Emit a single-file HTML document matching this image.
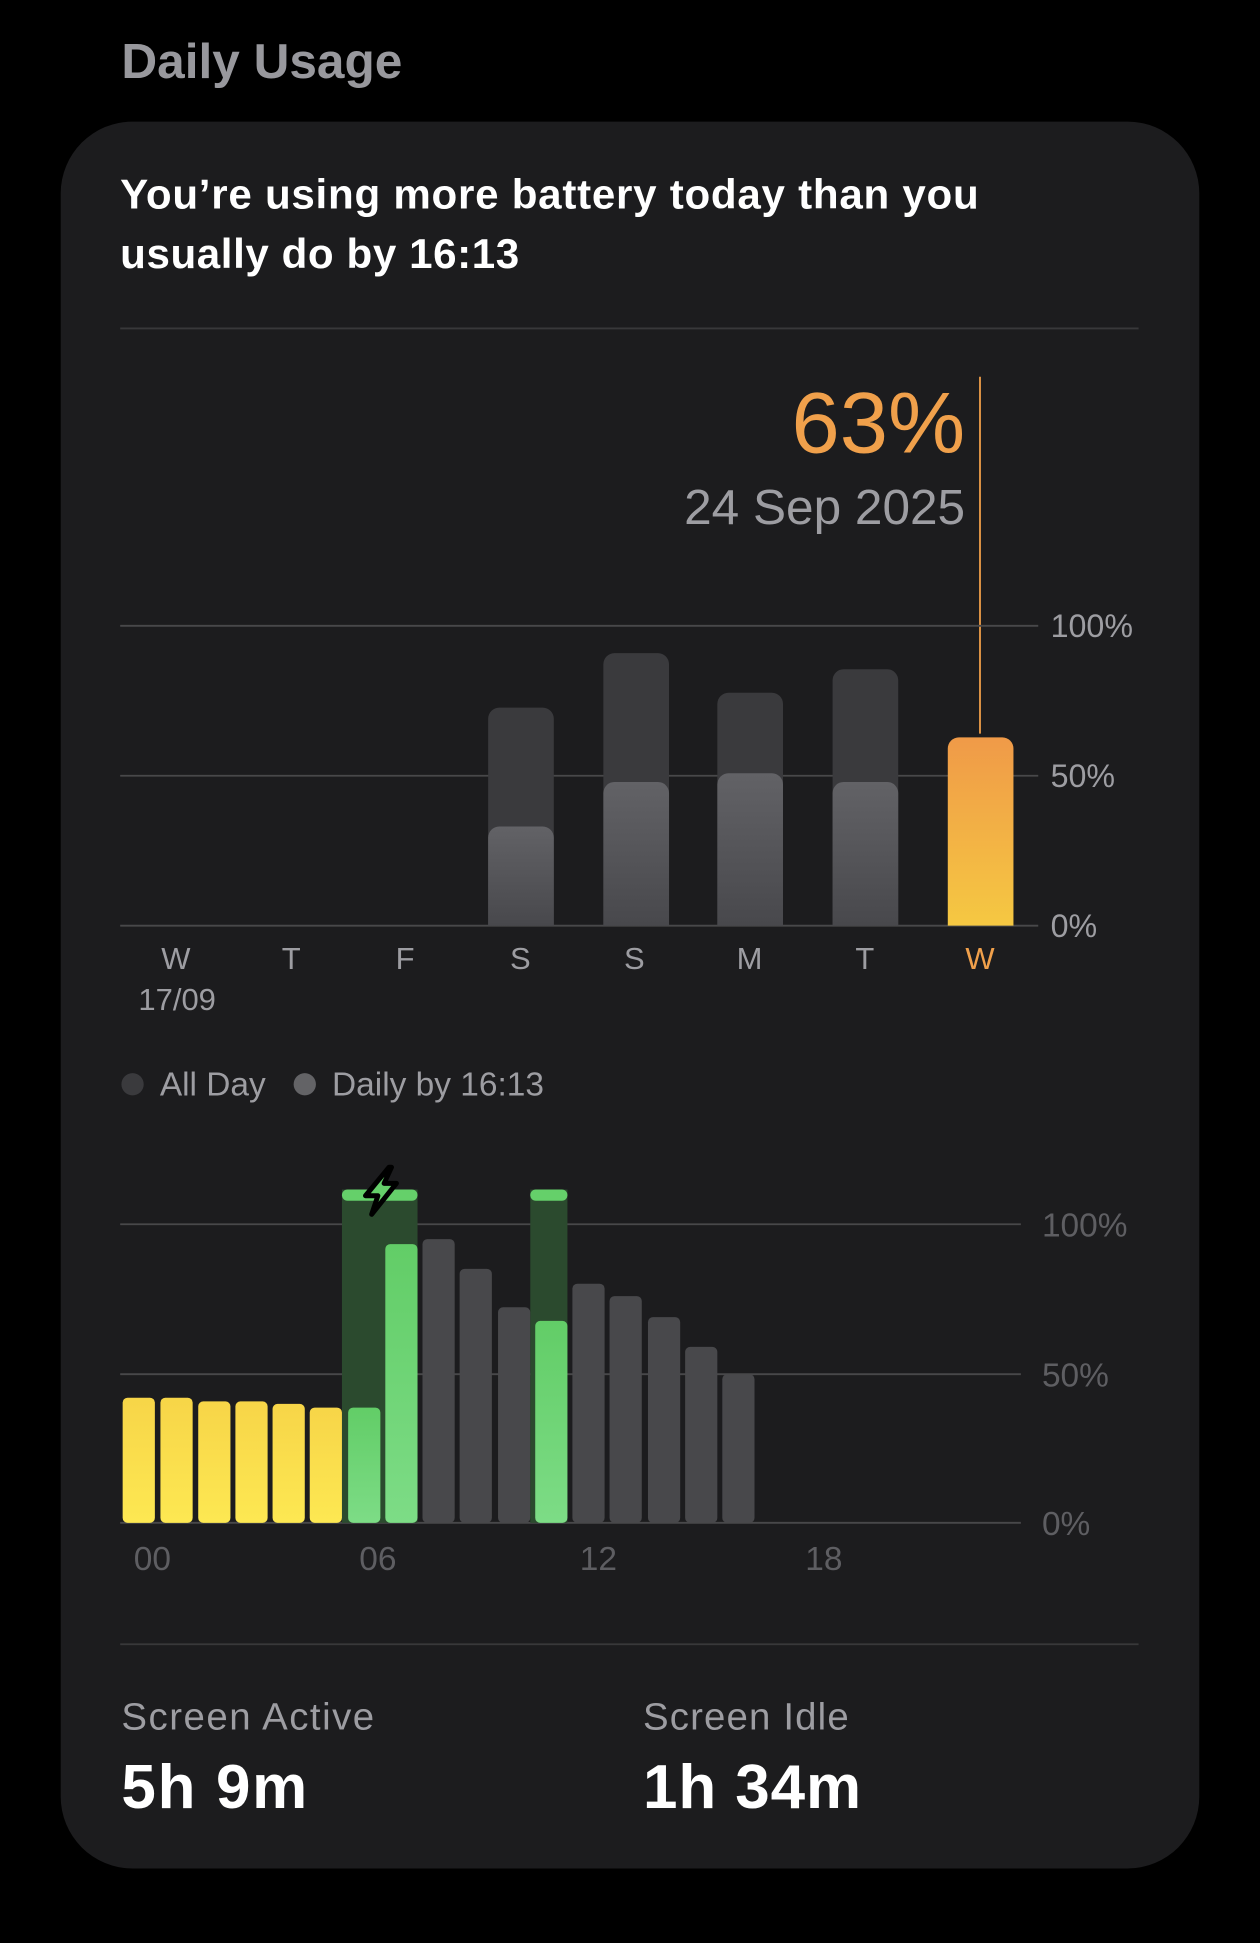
<!DOCTYPE html>
<html><head><meta charset="utf-8"><style>
html,body{margin:0;padding:0;background:#000;}
svg{display:block;}
text{font-family:"Liberation Sans",sans-serif;}
</style></head><body>
<svg width="1260" height="1943" viewBox="0 0 1017 1568" xmlns="http://www.w3.org/2000/svg">
<defs>
<linearGradient id="org" x1="0" y1="0" x2="0" y2="1"><stop offset="0" stop-color="#f09a48"/><stop offset="1" stop-color="#f5c842"/></linearGradient>
<linearGradient id="gin" x1="0" y1="0" x2="0" y2="1"><stop offset="0" stop-color="#626266"/><stop offset="1" stop-color="#48484c"/></linearGradient>
<linearGradient id="yel" x1="0" y1="0" x2="0" y2="1"><stop offset="0" stop-color="#f7d548"/><stop offset="1" stop-color="#fde852"/></linearGradient>
<linearGradient id="grn" x1="0" y1="0" x2="0" y2="1"><stop offset="0" stop-color="#62cd67"/><stop offset="1" stop-color="#7ddc86"/></linearGradient>
</defs>
<rect width="1017" height="1568" fill="#000"/>
<text x="98" y="63" font-size="40" font-weight="bold" fill="#98989d">Daily Usage</text>
<rect x="49" y="98" width="919" height="1410" rx="58" fill="#1c1c1e"/>
<text x="97" y="168" font-size="34" font-weight="bold" fill="#fff" textLength="693" lengthAdjust="spacing">You’re using more battery today than you</text>
<text x="97" y="216" font-size="34" font-weight="bold" fill="#fff" textLength="322" lengthAdjust="spacing">usually do by 16:13</text>
<line x1="97" y1="265" x2="919" y2="265" stroke="#38383a" stroke-width="1.5"/>
<text x="779" y="365" font-size="70" text-anchor="end" fill="#f0a04b">63%</text>
<text x="779" y="423" font-size="40" text-anchor="end" fill="#9d9da2">24 Sep 2025</text>
<line x1="791" y1="304" x2="791" y2="592" stroke="#e89a48" stroke-width="1.5"/>
<g stroke="#48484a" stroke-width="1.5">
<line x1="97" y1="505" x2="838" y2="505"/><line x1="97" y1="626" x2="838" y2="626"/><line x1="97" y1="747" x2="838" y2="747"/>
</g>
<g font-size="26" fill="#9d9da2">
<text x="848" y="514">100%</text><text x="848" y="635">50%</text><text x="848" y="756">0%</text>
</g>
<g fill="#3a3a3d">
<path d="M394,747V580a9,9 0 0 1 9,-9h35a9,9 0 0 1 9,9V747Z"/>
<path d="M487,747V536a9,9 0 0 1 9,-9h35a9,9 0 0 1 9,9V747Z"/>
<path d="M579,747V568a9,9 0 0 1 9,-9h35a9,9 0 0 1 9,9V747Z"/>
<path d="M672,747V549a9,9 0 0 1 9,-9h35a9,9 0 0 1 9,9V747Z"/>
</g>
<g fill="url(#gin)">
<path d="M394,747V676a9,9 0 0 1 9,-9h35a9,9 0 0 1 9,9V747Z"/>
<path d="M487,747V640a9,9 0 0 1 9,-9h35a9,9 0 0 1 9,9V747Z"/>
<path d="M579,747V633a9,9 0 0 1 9,-9h35a9,9 0 0 1 9,9V747Z"/>
<path d="M672,747V640a9,9 0 0 1 9,-9h35a9,9 0 0 1 9,9V747Z"/>
</g>
<path d="M765,747V604a9,9 0 0 1 9,-9h35a9,9 0 0 1 9,9V747Z" fill="url(#org)"/>
<g font-size="25" fill="#9d9da2" text-anchor="middle">
<text x="142" y="782">W</text><text x="235" y="782">T</text><text x="327" y="782">F</text><text x="420" y="782">S</text>
<text x="512" y="782">S</text><text x="605" y="782">M</text><text x="698" y="782">T</text>
<text x="791" y="782" fill="#f0a04b">W</text>
<text x="143" y="815">17/09</text>
</g>
<circle cx="107" cy="875" r="9" fill="#3a3a3d"/>
<text x="129" y="884" font-size="27" fill="#9d9da2">All Day</text>
<circle cx="246" cy="875" r="9" fill="#636366"/>
<text x="268" y="884" font-size="27" fill="#9d9da2">Daily by 16:13</text>
<g stroke="#48484a" stroke-width="1.5">
<line x1="97" y1="988" x2="824" y2="988"/><line x1="97" y1="1109" x2="824" y2="1109"/><line x1="97" y1="1229" x2="824" y2="1229"/>
</g>
<g font-size="27" fill="#5e5e62">
<text x="841" y="998">100%</text><text x="841" y="1119">50%</text><text x="841" y="1239">0%</text>
</g>
<rect x="276" y="960" width="61" height="269" fill="#2b4a2e"/>
<rect x="428" y="960" width="30" height="269" fill="#2b4a2e"/>
<rect x="276" y="960" width="61" height="9" rx="4.5" fill="#65d06a"/>
<rect x="428" y="960" width="30" height="9" rx="4.5" fill="#65d06a"/>
<g fill="url(#yel)">
<rect x="99" y="1128" width="26" height="101" rx="4"/>
<rect x="129.5" y="1128" width="26" height="101" rx="4"/>
<rect x="160" y="1131" width="26" height="98" rx="4"/>
<rect x="190" y="1131" width="26" height="98" rx="4"/>
<rect x="220" y="1133" width="26" height="96" rx="4"/>
<rect x="250" y="1136" width="26" height="93" rx="4"/>
</g>
<g fill="url(#grn)">
<rect x="281" y="1136" width="26" height="93" rx="4"/>
<rect x="311" y="1004" width="26" height="225" rx="4"/>
<rect x="432" y="1066" width="26" height="163" rx="4"/>
</g>
<g fill="#48484b">
<rect x="341" y="1000" width="26" height="229" rx="4"/>
<rect x="371" y="1024" width="26" height="205" rx="4"/>
<rect x="402" y="1055" width="26" height="174" rx="4"/>
<rect x="462" y="1036" width="26" height="193" rx="4"/>
<rect x="492" y="1046" width="26" height="183" rx="4"/>
<rect x="523" y="1063" width="26" height="166" rx="4"/>
<rect x="553" y="1087" width="26" height="142" rx="4"/>
<rect x="583" y="1109" width="26" height="120" rx="4"/>
</g>
<path d="M314,942 L295,965 L305,965 L300,980 L320,955 L310,955 L316,942 Z" fill="#65d06a" stroke="#000" stroke-width="4" stroke-linejoin="round"/>
<g font-size="27" fill="#5e5e62" text-anchor="middle">
<text x="123" y="1267">00</text><text x="305" y="1267">06</text><text x="483" y="1267">12</text><text x="665" y="1267">18</text>
</g>
<line x1="97" y1="1327" x2="919" y2="1327" stroke="#38383a" stroke-width="1.5"/>
<text x="98" y="1396" font-size="31" fill="#9d9da2" textLength="204" lengthAdjust="spacing">Screen Active</text>
<text x="98" y="1459" font-size="50" font-weight="bold" fill="#fff" textLength="150" lengthAdjust="spacing">5h 9m</text>
<text x="519" y="1396" font-size="31" fill="#9d9da2" textLength="166" lengthAdjust="spacing">Screen Idle</text>
<text x="519" y="1459" font-size="50" font-weight="bold" fill="#fff" textLength="176" lengthAdjust="spacing">1h 34m</text>
</svg>
</body></html>
